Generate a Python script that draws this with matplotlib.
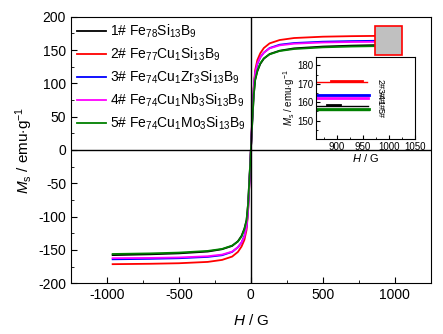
import matplotlib
matplotlib.use('Agg')
import matplotlib.pyplot as plt
import matplotlib.patches as patches
import numpy as np

plt.rcParams['font.family'] = ['Liberation Sans', 'DejaVu Sans']
plt.rcParams['mathtext.fontset'] = 'custom'
plt.rcParams['mathtext.rm'] = 'Liberation Sans'
plt.rcParams['mathtext.it'] = 'Liberation Sans:italic'
plt.rcParams['mathtext.bf'] = 'Liberation Sans:bold'
plt.rcParams['axes.unicode_minus'] = False

labels = [r'1# Fe$_{78}$Si$_{13}$B$_9$',
          r'2# Fe$_{77}$Cu$_1$Si$_{13}$B$_9$',
          r'3# Fe$_{74}$Cu$_1$Zr$_3$Si$_{13}$B$_9$',
          r'4# Fe$_{74}$Cu$_1$Nb$_3$Si$_{13}$B$_9$',
          r'5# Fe$_{74}$Cu$_1$Mo$_3$Si$_{13}$B$_9$']
colors = ['black', 'red', 'blue', 'magenta', 'green']

# field values (G) for the positive half, the loop is mirrored for H < 0
H = [0, 10, 20, 30, 45, 65, 90, 130, 200, 300, 500, 700, 960]
M1 = [0, 42, 82, 105, 118, 129, 137, 144, 149, 152.5, 155.2, 156.6, 157.8]
M2 = [0, 50, 95, 120, 135, 145, 153, 160, 165, 168, 170, 170.8, 171.4]
M3 = [0, 48, 92, 115, 129, 139, 146, 153, 158, 160.5, 162.5, 163.4, 164.1]
M4 = [0, 49, 93, 116, 130, 139, 146, 152.5, 157, 159.5, 161.3, 162, 162.4]
M5 = [0, 43, 83, 106, 119, 130, 137.5, 143.5, 148.5, 151.5, 154, 155.2, 156.1]
M_all = [M1, M2, M3, M4, M5]

# inset: flat ends of the loops (two branches)
ins_thin_h = [(860, 960), (860, 957), (860, 960), (862, 959), (860, 962)]
ins_thin_m = [157.9, 171.2, 164.0, 162.3, 156.0]
ins_thick_h = [(881, 906), (888, 949), (860, 962), (862, 959), (860, 962)]
ins_thick_m = [158.3, 171.5, 164.1, 162.4, 156.1]
ins_tags = ['1#', '2#', '3#', '4#', '5#']
ins_tag_y = [158.6, 169.8, 164.7, 161.5, 154.2]

fig = plt.figure(figsize=(4.43, 3.34), dpi=100)
ax = fig.add_axes([0.160, 0.152, 0.8126, 0.798])

for m, c, lab in zip(M_all, colors, labels):
    h = np.array(H, dtype=float)
    mm = np.array(m, dtype=float)
    hx = np.concatenate([-h[::-1], h[1:]])
    my = np.concatenate([-mm[::-1], mm[1:]])
    ax.plot(hx, my, color=c, lw=1.3, label=lab)

ax.axhline(0, color='black', lw=1)
ax.axvline(0, color='black', lw=1)

ax.add_patch(patches.Rectangle((860, 142), 190, 44, facecolor='#c0c0c0',
                               edgecolor='red', lw=1.2, zorder=3))

ax.set_xlim(-1250, 1250)
ax.set_ylim(-200, 200)
ax.set_xticks([-1000, -500, 0, 500, 1000])
ax.set_xticks([-750, -250, 250, 750], minor=True)
ax.set_yticks(np.arange(-200, 201, 50))
ax.set_yticks(np.arange(-175, 200, 50), minor=True)
ax.tick_params(which='both', direction='in', labelsize=10)
ax.tick_params(which='major', length=4)
ax.tick_params(which='minor', length=2.5)
ax.set_xlabel(r'$H$ / G', fontsize=11, labelpad=8)
ax.set_ylabel(r'$M_{\rm s}$ / emu$\cdot$g$^{-1}$', fontsize=11, labelpad=2)

ax.legend(loc='upper left', frameon=False, fontsize=10, handlelength=2.1,
          handletextpad=0.3, labelspacing=0.4, borderaxespad=0.05)

ins = fig.add_axes([0.7133, 0.5838, 0.2235, 0.2455])
for i, c in enumerate(colors):
    ins.plot(ins_thin_h[i], [ins_thin_m[i]] * 2, color=c, lw=1)
    ins.plot(ins_thick_h[i], [ins_thick_m[i]] * 2, color=c, lw=2)
    ins.text(983, ins_tag_y[i], ins_tags[i], rotation=-90, fontsize=6.5,
             ha='center', va='center')
ins.set_xlim(860, 1050)
ins.set_ylim(140, 184.5)
ins.set_xticks([900, 950, 1000, 1050])
ins.set_yticks([150, 160, 170, 180])
ins.set_yticks([145, 155, 165, 175], minor=True)
ins.set_xticks([875, 925, 975, 1025], minor=True)
ins.tick_params(which='both', direction='in', labelsize=7, pad=2)
ins.tick_params(which='major', length=3)
ins.tick_params(which='minor', length=1.5)
ins.set_xlabel(r'$H$ / G', fontsize=8, labelpad=0)
ins.set_ylabel(r'$M_{\rm s}$ / emu$\cdot$g$^{-1}$', fontsize=7, labelpad=0)

fig.savefig('out.png', dpi=100)
